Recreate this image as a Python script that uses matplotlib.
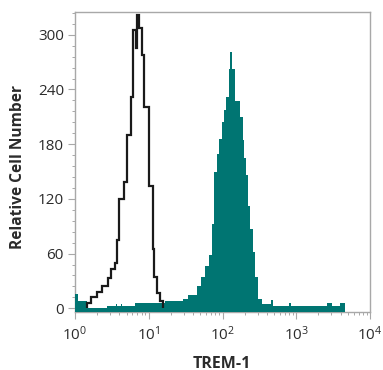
import matplotlib
matplotlib.use("Agg")
import matplotlib.pyplot as plt
import numpy as np
from matplotlib.ticker import MultipleLocator, LogLocator, NullFormatter

# Isotype control (black outline) - bin edges in log10 units and counts
iso_log_edges = [0.163, 0.217, 0.298, 0.366, 0.447, 0.488, 0.542, 0.569, 0.597, 0.664,
                 0.705, 0.759, 0.793, 0.827, 0.847, 0.868, 0.908, 0.942, 1.003, 1.058,
                 1.071, 1.112, 1.153, 1.193]
iso_counts = [6, 12, 18, 24, 33, 43, 50, 75, 120, 138, 190, 232, 305, 285, 322, 307,
              278, 221, 134, 65, 34, 17, 8]

# TREM-1 stained (teal filled)
trem_log_edges = [0.0, 0.041, 0.163, 0.434, 0.556, 0.576, 0.624, 0.644, 0.678, 0.814,
                  1.220, 1.464, 1.532, 1.654, 1.708, 1.763, 1.817, 1.858, 1.885, 1.925,
                  1.953, 1.993, 2.020, 2.047, 2.088, 2.108, 2.129, 2.169, 2.237, 2.278,
                  2.292, 2.319, 2.346, 2.373, 2.414, 2.441, 2.481, 2.536, 2.658, 2.678,
                  2.908, 2.929, 3.417, 3.485, 3.593, 3.661]
trem_counts = [16, 8, 0.5, 3, 5, 3, 5, 3, 2, 6, 8, 10, 15, 24, 34, 46, 59, 92, 149, 169,
               186, 204, 218, 232, 262, 281, 262, 227, 210, 185, 165, 146, 112, 87, 62,
               34, 10, 5, 9, 3, 6, 2, 6, 2, 6]

y_ticks = [0, 60, 120, 180, 240, 300]
x_ticks = [1, 10, 100, 1000, 10000]
x_tick_labels = [r"$\mathregular{10^0}$", r"$\mathregular{10^1}$", r"$\mathregular{10^2}$",
                 r"$\mathregular{10^3}$", r"$\mathregular{10^4}$"]

teal = "#007572"
grey = "#a8a8a8"
txt = "#2b2b2b"

plt.rcParams['font.family'] = ['Open Sans', 'DejaVu Sans']

W, H = 383, 370
fig = plt.figure(figsize=(W/100, H/100), dpi=100)
ax = fig.add_axes([75/W, 1-311.5/H, 295/W, (311.5-12)/H])

ymin = -3.5
ax.stairs(trem_counts, 10**np.array(trem_log_edges), fill=True, color=teal,
          baseline=ymin, zorder=2, linewidth=0)
ax.stairs(iso_counts, 10**np.array(iso_log_edges), fill=False, color="#1a1a1a",
          baseline=0, linewidth=1.6, zorder=3)

ax.set_xscale('log')
ax.set_xlim(1, 10000)
ax.set_ylim(ymin, 325)

ax.set_xticks(x_ticks)
ax.set_xticklabels(x_tick_labels)
ax.xaxis.set_minor_locator(LogLocator(base=10, subs=np.arange(2, 10)))
ax.xaxis.set_minor_formatter(NullFormatter())
ax.set_yticks(y_ticks)
ax.yaxis.set_minor_locator(MultipleLocator(12))

for s in ax.spines.values():
    s.set_color(grey)
    s.set_linewidth(1.0)
    s.set_zorder(1)

ax.tick_params(axis='both', which='major', length=5, width=0.8, color=grey,
               labelsize=11, labelcolor=txt, direction='out')
ax.tick_params(axis='both', which='minor', length=2.5, width=0.7, color=grey,
               direction='out')
ax.tick_params(axis='y', pad=3)
ax.tick_params(axis='x', pad=5)

fig.text(18.5/W, 1-167/H, "Relative Cell Number", rotation=90, fontsize=11.2,
         fontweight='bold', color=txt, ha='center', va='center')
fig.text(222/W, 1-367.5/H, "TREM-1", fontsize=11.5, fontweight='bold', color=txt,
         ha='center', va='baseline')

fig.savefig("out.png", dpi=100)
